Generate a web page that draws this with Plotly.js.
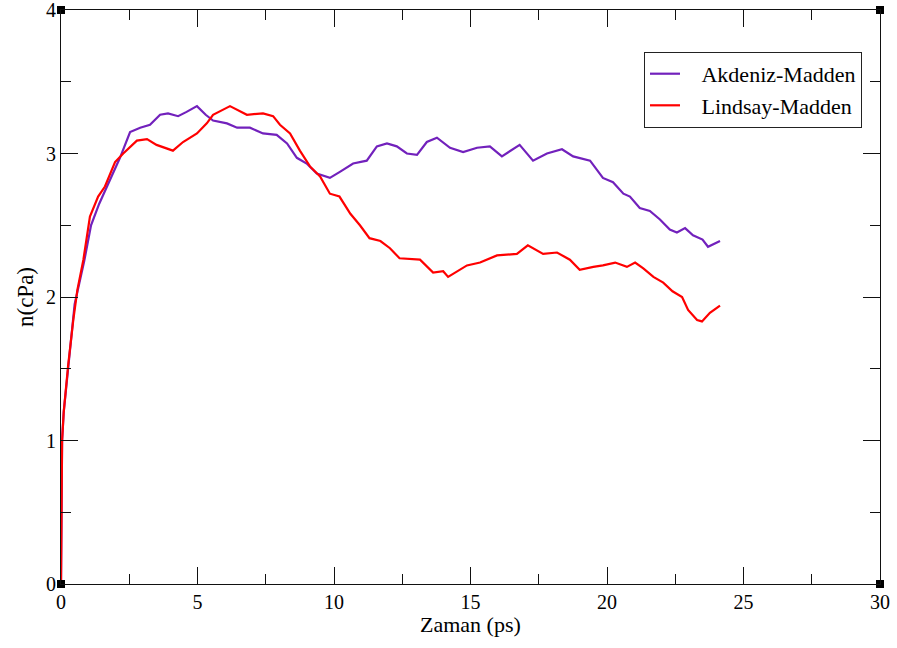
<!DOCTYPE html>
<html>
<head>
<meta charset="utf-8">
<script src="https://cdn.plot.ly/plotly-3.0.1.min.js"></script>
<style>html,body{margin:0;padding:0;background:#fff}#chart{width:897px;height:648px}</style>
</head>
<body>
<div id="chart"></div>
<script>
// Akdeniz-Madden
const akX = [0,0.02,0.04,0.1,0.26,0.5,0.85,1.1,1.4,1.7,2.16,2.53,2.9,3.26,3.63,3.92,4.29,4.6,4.98,5.3,5.57,6.08,6.45,6.92,7.4,7.9,8.28,8.64,9.0,9.37,9.85,10.2,10.7,11.2,11.57,11.94,12.3,12.67,13.04,13.4,13.77,14.25,14.73,15.24,15.71,16.15,16.5,16.8,17.29,17.8,18.35,18.76,19.38,19.85,20.22,20.6,20.84,21.2,21.57,21.94,22.3,22.56,22.86,23.15,23.5,23.7,24.14];
const akY = [0,0.6,1.0,1.2,1.5,1.95,2.25,2.5,2.65,2.78,2.97,3.15,3.18,3.2,3.27,3.28,3.26,3.29,3.33,3.27,3.23,3.21,3.18,3.18,3.14,3.13,3.07,2.97,2.93,2.86,2.83,2.87,2.93,2.95,3.05,3.07,3.05,3.0,2.99,3.08,3.11,3.04,3.01,3.04,3.05,2.98,3.02,3.06,2.95,3.0,3.03,2.98,2.95,2.83,2.80,2.72,2.70,2.62,2.60,2.54,2.47,2.45,2.48,2.43,2.40,2.35,2.39];
// Lindsay-Madden
const liX = [0,0.02,0.04,0.1,0.26,0.45,0.6,0.82,1.06,1.36,1.61,1.98,2.28,2.78,3.15,3.5,4.1,4.47,4.98,5.34,5.57,6.19,6.81,7.4,7.77,8.02,8.39,8.75,9.12,9.49,9.85,10.2,10.6,10.95,11.3,11.7,12.05,12.4,13.15,13.63,14.0,14.18,14.87,15.35,15.97,16.7,17.1,17.66,18.17,18.64,19.0,19.5,19.85,20.3,20.73,21.03,21.33,21.7,22.06,22.4,22.75,22.97,23.3,23.48,23.77,24.14];
const liY = [0,0.58,1.0,1.2,1.52,1.84,2.05,2.26,2.56,2.70,2.77,2.94,3.0,3.09,3.10,3.06,3.02,3.08,3.14,3.21,3.27,3.33,3.27,3.28,3.26,3.2,3.14,3.02,2.91,2.84,2.72,2.70,2.58,2.50,2.41,2.39,2.34,2.27,2.26,2.17,2.18,2.14,2.22,2.24,2.29,2.30,2.36,2.30,2.31,2.26,2.19,2.21,2.22,2.24,2.21,2.24,2.20,2.14,2.10,2.04,2.0,1.91,1.84,1.83,1.89,1.94];
// corner markers
const cornerX = [0,0,30,30];
const cornerY = [0,4,4,0];
const xTitle = 'Zaman (ps)';
const yTitle = 'n(cPa)';

const serif = "Liberation Serif";
const NB = '\u00A0\u00A0\u00A0';
const traces = [
  {x: akX, y: akY, type: 'scatter', mode: 'lines', name: NB + 'Akdeniz-Madden',
   line: {color: '#7221BC', width: 2.2}},
  {x: liX, y: liY, type: 'scatter', mode: 'lines', name: NB + 'Lindsay-Madden',
   line: {color: '#FF0000', width: 2.2}},
  {x: cornerX, y: cornerY, type: 'scatter', mode: 'markers', showlegend: false,
   cliponaxis: false, marker: {symbol: 'square', size: 8, color: '#000'}}
];
const axisCommon = {
  showgrid: false, zeroline: false, showline: true, linecolor: '#111', linewidth: 1,
  mirror: 'allticks', ticks: 'inside', ticklen: 17, tickwidth: 1, tickcolor: '#111',
  ticklabeloverflow: 'allow',
  tickfont: {family: serif, size: 20, color: '#000'}
};
const layout = {
  width: 897, height: 648,
  font: {family: serif, size: 20, color: '#000'},
  margin: {l: 61, r: 17, t: 10, b: 64},
  paper_bgcolor: '#fff', plot_bgcolor: '#fff',
  showlegend: true,
  xaxis: Object.assign({}, axisCommon, {
    range: [0, 30], dtick: 5, tick0: 0,
    minor: {ticks: 'inside', ticklen: 10, dtick: 2.5, tickcolor: '#111', tickwidth: 1, showgrid: false}
  }),
  yaxis: Object.assign({}, axisCommon, {
    range: [0, 4], dtick: 1, tick0: 0,
    minor: {ticks: 'inside', ticklen: 10, dtick: 0.5, tickcolor: '#111', tickwidth: 1, showgrid: false},
    title: {text: yTitle, font: {family: serif, size: 23, color: '#000'}, standoff: 5}
  }),
  annotations: [{
    text: xTitle, xref: 'paper', yref: 'paper', x: 0.5, y: 0,
    xanchor: 'center', yanchor: 'top', yshift: -26, showarrow: false,
    font: {family: serif, size: 22, color: '#000'}
  }],
  legend: {
    x: 0.978, y: 0.927, xanchor: 'right', yanchor: 'top',
    bgcolor: '#fff', bordercolor: '#222', borderwidth: 1,
    font: {family: serif, size: 22, color: '#000'},
    itemwidth: 30, tracegroupgap: 0
  }
};
Plotly.newPlot('chart', traces, layout, {staticPlot: true, displayModeBar: false});
</script>
</body>
</html>
